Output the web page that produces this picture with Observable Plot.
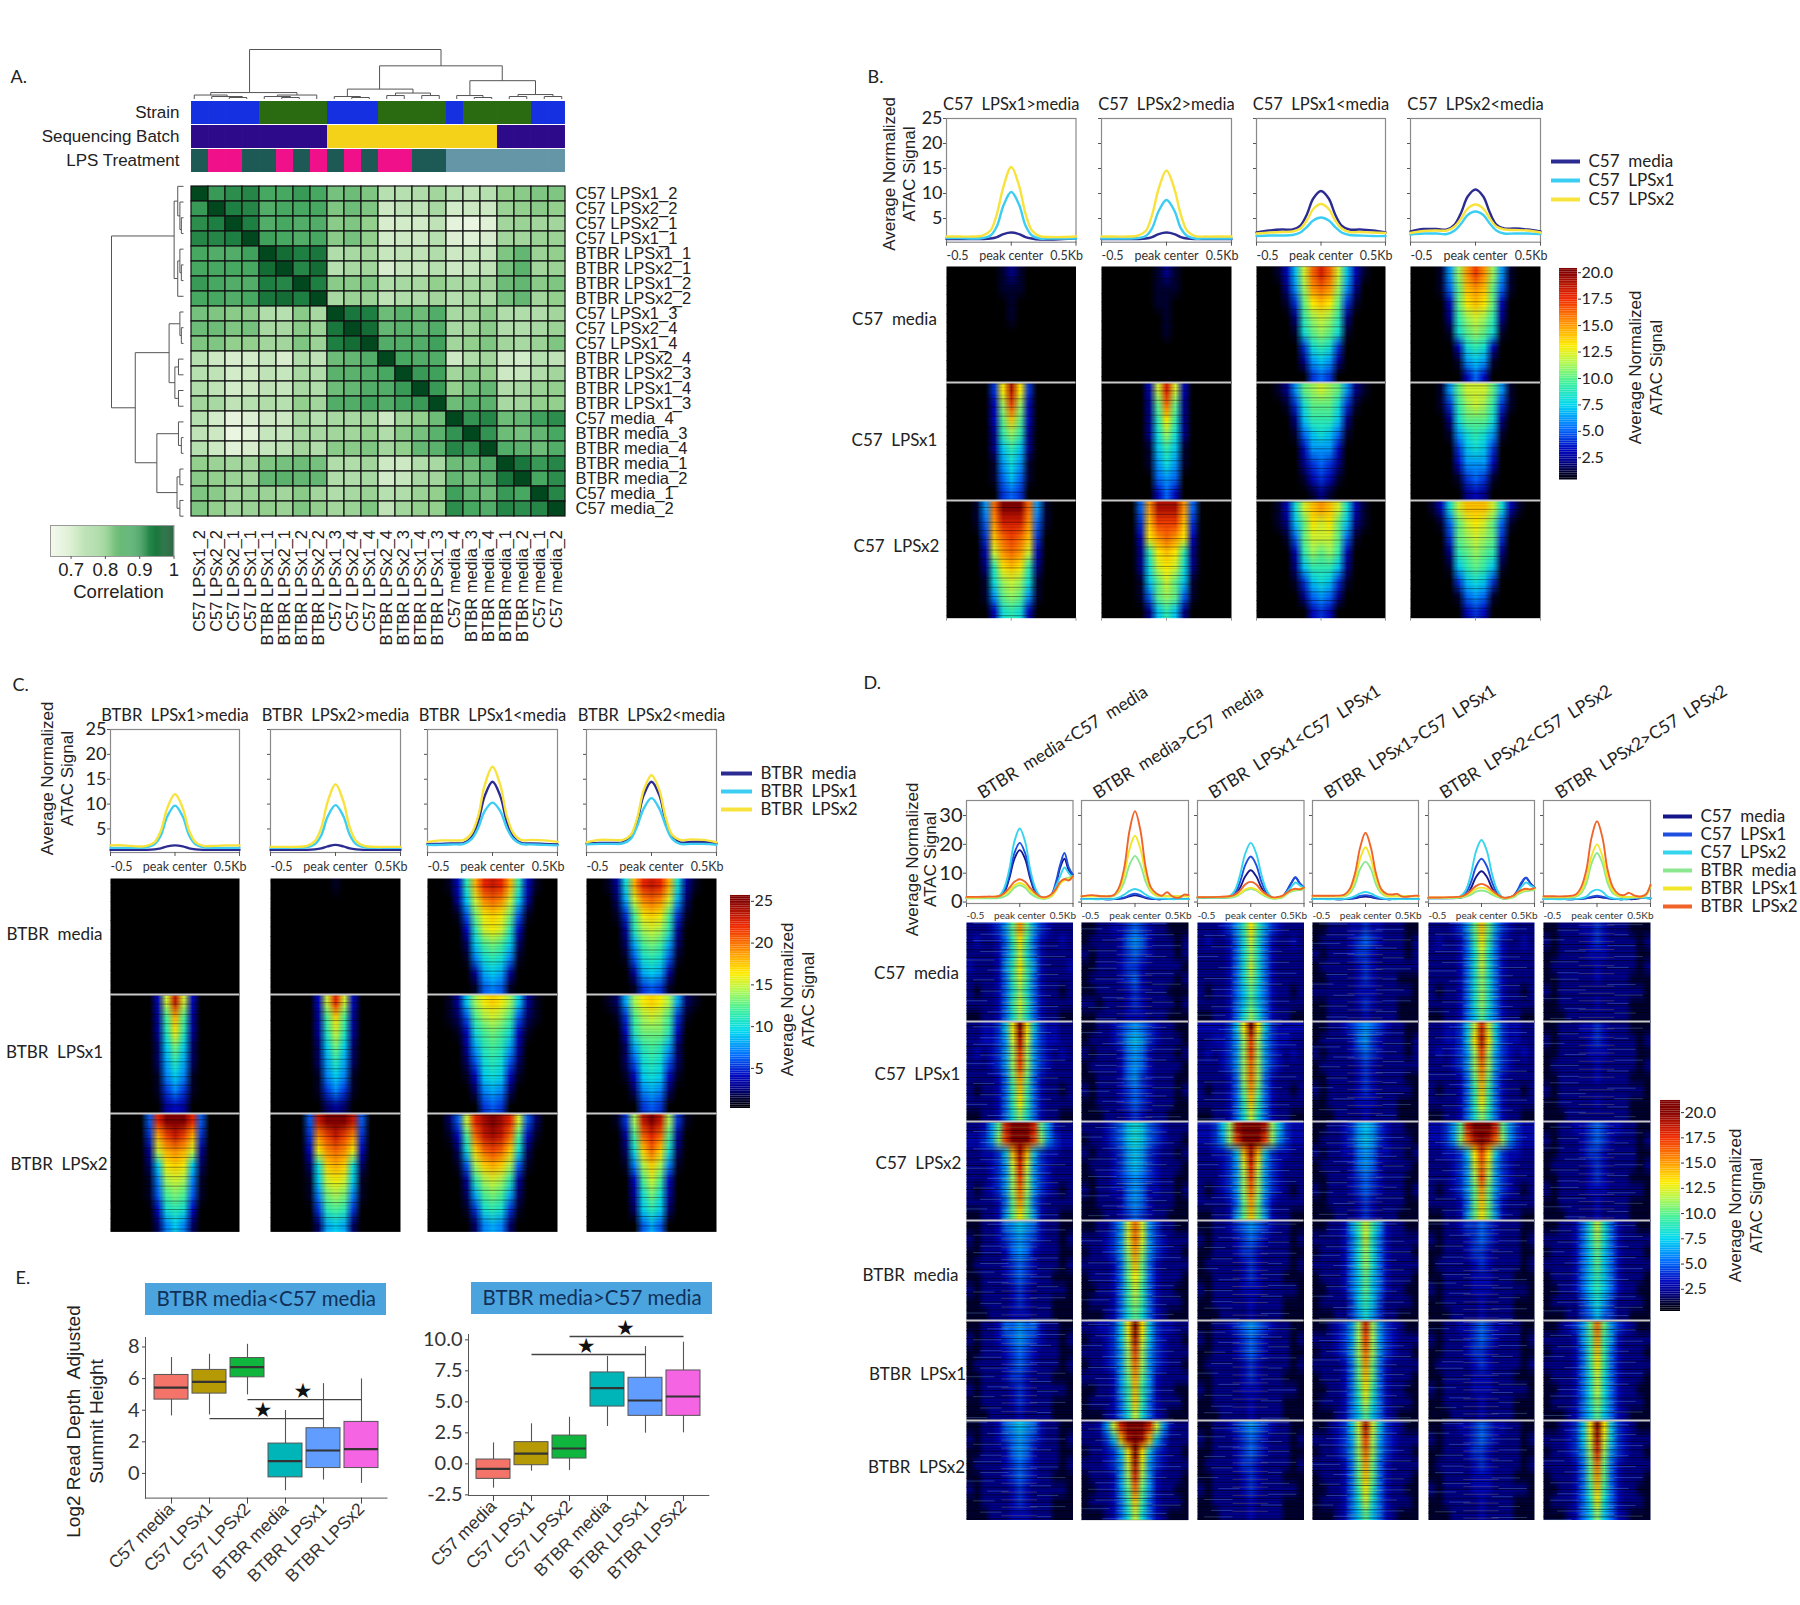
<!DOCTYPE html>
<html><head><meta charset="utf-8">
<script src="https://cdn.jsdelivr.net/npm/d3@7"></script>
<script src="https://cdn.jsdelivr.net/npm/@observablehq/plot@0.6"></script>
<style>html,body{margin:0;padding:0;background:#fff}#page{position:relative;width:1800px;height:1605px;overflow:hidden;background:#fff}#page svg{position:absolute;overflow:visible;max-width:none;background:transparent}</style>
</head><body><div id="page"></div>
<script>
// ---------- Panel A data ----------
const samples=["C57 LPSx1_2","C57 LPSx2_2","C57 LPSx2_1","C57 LPSx1_1","BTBR LPSx1_1","BTBR LPSx2_1","BTBR LPSx1_2","BTBR LPSx2_2","C57 LPSx1_3","C57 LPSx2_4","C57 LPSx1_4","BTBR LPSx2_4","BTBR LPSx2_3","BTBR LPSx1_4","BTBR LPSx1_3","C57 media_4","BTBR media_3","BTBR media_4","BTBR media_1","BTBR media_2","C57 media_1","C57 media_2"];
const correlationUpper=[
[100,90,92,93,88,88,90,88,83,84,82,75,75,76,78,75,74,75,80,81,82,82],
[100,94,93,87,88,88,88,82,84,82,72,74,74,77,71,72,72,79,80,81,80],
[100,94,87,88,87,87,81,82,80,70,71,71,74,67,66,68,78,79,78,78],
[100,89,88,87,88,81,83,80,71,72,72,75,69,68,70,78,78,79,79],
[100,96,94,95,76,77,78,73,74,74,76,72,73,73,82,85,79,80],
[100,93,96,75,77,78,70,73,73,75,72,73,74,83,86,78,79],
[100,94,81,81,82,76,77,77,80,77,77,78,84,85,81,82],
[100,77,79,79,74,76,76,78,75,77,76,83,85,78,80],
[100,95,94,84,86,84,87,77,78,81,76,76,76,78],
[100,96,85,86,85,87,77,78,81,76,76,77,79],
[100,87,87,87,89,78,80,82,78,77,79,82],
[100,88,87,87,72,76,78,72,71,75,74],
[100,90,89,78,81,80,72,73,76,78],
[100,90,80,83,85,76,77,79,80],
[100,84,86,86,77,78,80,80],
[100,91,93,84,85,89,92],
[100,91,84,83,85,88],
[100,87,86,84,87],
[100,95,90,93],
[100,88,92],
[100,93],
[100]];
const batchOfSample=[1,1,1,1,1,1,1,1,2,2,2,2,2,2,2,2,2,2,1,1,1,1];
// merges: left position, right position, height, left child height, right child height
const dendroMerges=[[3.66,14.6,1,.13,.67],[1.44,6.37,.13,.08,.08],[11.09,18.1,.67,.2,.37],[9.25,13,.2,.05,.12],[16.25,20,.37,.07,.09],
[.5,2.38,.08,0,.05],[1.5,3.25,.05,0,.03],[2.5,3.5,.03,0,0],[5.25,7.5,.08,.05,0],[4.5,6,.05,0,.03],[5.5,6.5,.03,0,0],
[8.5,10,.05,0,.03],[9.5,10.5,.03,0,0],[12,14,.12,.07,.07],[11.5,12.5,.07,0,0],[13.5,14.5,.07,0,0],
[15.5,17,.07,0,.03],[16.5,17.5,.03,0,0],[19,21,.09,.05,.05],[18.5,19.5,.05,0,0],[20.5,21.5,.05,0,0]];

// ---------- Profiles ----------
const xsB=[-.5,-.4,-.3,-.22,-.16,-.11,-.06,0,.06,.11,.16,.22,.3,.4,.5];
const xsD=[-.5,-.4,-.3,-.2,-.15,-.1,-.05,0,.05,.1,.15,.2,.25,.3,.34,.38,.42,.46,.5];
const titlesB=["C57  LPSx1>media","C57  LPSx2>media","C57  LPSx1<media","C57  LPSx2<media"];
const titlesC=["BTBR  LPSx1>media","BTBR  LPSx2>media","BTBR  LPSx1<media","BTBR  LPSx2<media"];
const titlesD=["BTBR  media<C57  media","BTBR  media>C57  media","BTBR  LPSx1<C57  LPSx1","BTBR  LPSx1>C57  LPSx1","BTBR  LPSx2<C57  LPSx2","BTBR  LPSx2>C57  LPSx2"];
const namesB=["C57  media","C57  LPSx1","C57  LPSx2"];
const namesC=["BTBR  media","BTBR  LPSx1","BTBR  LPSx2"];
const namesD=["C57  media","C57  LPSx1","C57  LPSx2","BTBR  media","BTBR  LPSx1","BTBR  LPSx2"];
const coloursThree=["#2b2b92","#3ccdf2","#f8e23c"];
const coloursSix=["#16168c","#1f4fe0","#35d5ee","#8be88f","#f2e62a","#f0642a"];
const profilesB=[
[[.9,.9,.9,.9,1,1.3,1.9,2.2,1.9,1.3,1,.8,.8,.9,1],[1.1,1.1,1,1.1,1.6,3.5,7.6,10.3,7.8,3.6,1.6,1,1,1,1],[1.4,1.4,1.4,1.6,2.6,6,11.4,15.3,11.6,6,2.6,1.5,1.3,1.3,1.4]],
[[.9,.9,.9,.9,1,1.3,1.9,2.2,1.9,1.3,1,.9,.9,.9,.9],[1,1,1,1.1,1.5,3.1,6.5,8.7,6.6,3.1,1.5,1,1,1,1],[1.4,1.4,1.4,1.6,2.5,5.8,11,14.6,11,5.8,2.5,1.5,1.4,1.4,1.4]],
[[2.2,2.6,2.8,2.8,3.6,5.8,9,10.5,9,5.8,3.6,2.8,2.8,2.6,2.2],[1.5,1.6,1.6,1.7,2.2,3.3,4.6,5.2,4.6,3.3,2.2,1.7,1.6,1.5,1.5],[2,2.2,2.3,2.4,3,4.6,6.9,7.9,6.9,4.6,3,2.3,2.3,2.2,2.1]],
[[2.4,2.9,2.9,2.8,3.8,6.2,9.4,10.8,9.4,6.2,3.8,3,3,2.8,2.4],[1.8,2,2,1.9,2.6,4,5.7,6.4,5.7,4,2.6,2,2,2,1.9],[2.1,2.5,2.6,2.6,3.4,5,7,7.8,7,5,3.4,2.8,2.7,2.6,2.2]]];
const profilesC=[
[[.8,.8,.8,.8,.9,1.1,1.5,1.7,1.5,1.1,.9,.8,.8,.8,.8],[1.2,1.2,1.2,1.3,1.9,3.7,7.5,9.7,7.5,3.7,1.9,1.3,1.2,1.2,1.2],[1.7,1.7,1.5,1.6,2.3,4.6,9.2,12,9.2,4.6,2.3,1.6,1.6,1.7,1.7]],
[[.8,.8,.8,.8,.9,1.1,1.5,1.8,1.5,1.1,.9,.8,.8,.8,.8],[1.2,1.2,1.2,1.3,1.9,3.7,7.5,9.8,7.6,3.8,1.9,1.3,1.2,1.2,1.2],[1.4,1.4,1.4,1.6,2.5,5.2,10.5,14,10.6,5.3,2.5,1.6,1.4,1.4,1.4]],
[[2,2,2.1,2.2,3.4,6.5,11.6,14.5,11.6,6.5,3.4,2.2,2.1,2,1.9],[1.8,1.8,1.9,2,3,5.2,8.6,10.3,8.6,5.2,3,2,1.9,1.8,1.7],[2.4,2.7,2.7,2.8,4.2,7.6,13.8,17.5,13.8,7.6,4.2,2.8,2.8,2.7,2.4]],
[[2.1,2.2,2.2,2.3,3.4,6.6,11.8,14.5,11.8,6.6,3.4,2.3,2.4,2.4,2.1],[1.9,2,2,2.1,3,5.6,9.1,11.2,9.1,5.6,3,2,2,2,1.8],[2.3,2.8,2.8,2.8,3.8,7.2,12.8,15.8,12.8,7.2,3.8,2.8,2.9,2.8,2.3]]];
const profilesD=[
[[1.5,1.5,1.5,1.7,3,8,15,18,15,8,3,1.5,1.5,2.5,6,12,15,11,9],[1.5,1.5,1.5,1.8,3.5,9,17,20.5,17,9,3.5,1.5,1.5,2.8,7,13,17,12,9.5],[1.5,1.5,1.5,2,4.5,11,21,25.5,21,11,4.5,1.8,1.5,2.5,5.5,9,12,10,8.5],[1.3,1.3,1.3,1.4,1.8,3,5,5.8,5,3,1.8,1.2,1.2,2,4,6.5,8,8.5,9],[1.6,1.6,1.7,2,2.6,3.8,5.8,6.6,5.8,3.8,2.6,1.5,1.5,2.2,4,6.5,7.5,8,8.5],[1.8,1.8,1.9,2,3,4.8,7,7.9,7,4.8,3,1.8,1.8,2.8,4.5,7,8,7.5,9]],
[[1,1,1,1,1.1,1.4,2,2.3,2,1.4,1.1,1,1,1,1,1,1,1,1],[1,1,1,1,1.2,1.6,2.4,2.9,2.4,1.6,1.2,1,1,1,1,1,1,1,1],[1,1,1,1.1,1.6,2.6,3.9,4.5,3.9,2.6,1.6,1.2,1.2,1.1,1,1,1,1,1],[2,2,2,2.1,3.5,7,13,16,13,7,3.5,2.2,2,2,2,2,2,2,2],[2,2,2,2.2,4,9.5,18.5,23,18.5,9.5,4,2.3,2.2,2,2,2,2,2,2],[2,2.4,2,2.4,5,12,25,31.5,25,12,5,3,2.2,3.4,2.2,1.5,1.6,2.6,2.4]],
[[1.6,1.6,1.6,1.7,2.4,5,9,11,9,5,2.4,1.5,1.5,2,3.8,6.5,8.5,6.5,5],[1.5,1.5,1.5,1.8,3,7,13,15.8,13,7,3,1.5,1.5,2,4,6.6,8.6,6.5,5],[1.5,1.5,1.5,2,4,9.5,17,20.5,17,9.5,4,1.6,1.5,2,3.4,5.2,6.8,5.8,5],[1.5,1.5,1.5,1.5,1.8,2.8,4,4.6,4,2.8,1.8,1.2,1.2,1.6,2.8,3.6,4,4.2,4.4],[1.7,1.7,1.7,1.9,2.2,3,4.4,5,4.4,3,2.2,1.5,1.5,2,3,4,4.3,4.6,4.8],[1.7,1.7,1.8,2,2.6,4,6.2,7,6.2,4,2.6,1.7,1.7,2.2,3.2,4.2,4.6,4.4,5]],
[[1,1,1,1,1.1,1.3,1.7,1.9,1.7,1.3,1.1,1,1,1,1,1,1,1,1],[1,1,1,1,1.2,1.5,2.1,2.4,2.1,1.5,1.2,1,1,1,1,1,1,1,1],[1,1,1,1.1,1.4,2.1,3,3.5,3,2.1,1.4,1.1,1,1,1,1,1,1,1],[2,2,2,2,3,6,11.5,14,11.5,6,3,2,2,2,2,2,2,2,2],[2,2,2,2.2,3.6,7.8,15,19,15,7.8,3.6,2.2,2,2,2,2,2,2,2],[2.2,2.2,2.2,2.6,4.4,9.8,19,24,19,9.8,4.4,2.8,2.6,2.8,2,1.8,2,2.2,2.2]],
[[1.4,1.4,1.4,1.5,2.2,4.8,8.8,10.7,8.8,4.8,2.2,1.3,1.4,2,3.8,6.6,8.4,6.6,5],[1.3,1.3,1.3,1.6,3,6.8,12.4,15,12.4,6.8,3,1.5,1.5,2.2,4.2,7,8.4,6.5,5],[1.3,1.3,1.4,2,4,9.6,17.8,21.5,17.8,9.6,4,1.6,1.5,2,3.4,5.4,6.8,5.8,5],[1.4,1.4,1.4,1.5,1.8,2.6,3.6,4,3.6,2.6,1.8,1.2,1.2,1.6,2.6,3.4,3.8,4,4.2],[1.6,1.6,1.6,1.8,2.2,3.2,4.6,5,4.6,3.2,2.2,1.5,1.5,2,3,3.8,4.2,4.4,4.6],[1.6,1.6,1.7,1.9,2.6,4,5.6,6.3,5.6,4,2.6,1.6,1.6,2.2,3.4,4.2,4.6,4.4,4.8]],
[[1,1,1,1,1.1,1.3,1.6,1.8,1.6,1.3,1.1,1,1,1,1,1.2,1.5,1.5,1.3],[1,1,1,1,1.1,1.4,1.9,2.2,1.9,1.4,1.1,1,1,1,1.2,1.5,1.6,1.4,1.2],[1,1,1,1.1,1.3,1.9,3.6,4.3,3.6,1.9,1.3,1.1,1,1.2,1.5,1.7,1.6,1.4,1.3],[1.6,1.6,1.6,1.8,3,6.5,13.5,17,13.5,6.5,3,2,1.6,1.6,1.6,1.6,1.6,2.4,5.5],[1.8,1.8,1.8,2.2,3.8,8.2,16,20,16,8.2,3.8,2.2,1.8,1.8,1.8,1.8,1.8,2.6,5.8],[2,2,2,2.6,5,11,22.5,28,22.5,11,5,2.8,2.4,3.2,2.4,2,2,2.8,6]]];

// ---------- Heatmaps: one character per cell, base-36 signal level ----------
const blank=Array(8).fill("000000000000000");
const heatB=[
[["000000121000000","000000111000000","000000010000000","000000010000000","000000000000000","000000000000000","000000000000000","000000000000000"],
 ["000000121000000","000000111000000","000000110000000","000000010000000","000000010000000","000000000000000","000000000000000","000000000000000"],
 ["00137cgigc73100","00026bfgfb62000","00014adeda41000","000029bcb920000","000018aba810000","000004898400000","000002676200000","000000454000000"],
 ["00016bfhfb61000","00015aefea51000","00003adeda30000","000029bcb920000","000018aba810000","000003898300000","000001676100000","000000353000000"]],
[["000004djd400000","000003bhb300000","000003aea300000","0000029b9200000","000002797200000","000001686100000","000001575100000","000000454000000"],
 ["000003cic300000","000002aga200000","0000029d9200000","0000028b8200000","000001797100000","000001686100000","000000565000000","000000353000000"],
 ["00126abcba62100","000148aaa841000","000027999720000","000015787510000","000003666300000","000002454200000","000001343100000","000000121000000"],
 ["00016accca61000","000149bcb941000","000028aaa820000","000016898610000","000004787400000","000003666300000","000001454100000","000000232000000"]],
[["00016gkkkg61000","00015fiiif51000","00004eghge40000","00003cfgfc30000","000029ded920000","000018bcb810000","000016aba610000","000003898300000"],
 ["00005fjjjf50000","00004ehhhe40000","00003dfgfd30000","000029ded920000","000028cdc820000","000017aca710000","000015aba510000","000002797200000"],
 ["00138cefec83100","00127adcda72100","00015accca51000","000039bab930000","000027999720000","000014787410000","000002565200000","000000343000000"],
 ["00138ceeec83100","00015acdca51000","00004abcba40000","000029aba920000","0000179a9710000","000004787400000","000001565100000","000000343000000"]]];
const heatC=[
[[...blank],
 ["000000010000000","000000000000000","000000000000000","000000000000000","000000000000000","000000000000000","000000000000000","000000000000000"],
 ["0014bimnmib4100","00039fjkjf93000","00016dghgd61000","00004bfgfb40000","000029cdc920000","000017aba710000","000003898300000","000001676100000"],
 ["0013aimnmia3100","00028fjkjf82000","00015cghgc51000","00003befeb30000","000028cdc820000","000016aba610000","000003898300000","000001565100000"]],
[["000004fnf400000","000003cic300000","000003bgb300000","0000029d9200000","0000028b8200000","000001797100000","000001575100000","000000343000000"],
 ["000004fmf400000","000003chc300000","000003bfb300000","0000029d9200000","0000028b8200000","000001797100000","000001575100000","000000232000000"],
 ["00139eghge93100","00126cefec62100","00014acdca41000","000038bcb830000","000026aba620000","0000149a9410000","000002787200000","000000565000000"],
 ["00128eghge82100","00015cefec51000","00004bdddb40000","000028bcb820000","000026aba620000","0000149a9410000","000002787200000","000000565000000"]],
[["00006mpppm60000","00005ilnli50000","00003fijif30000","000029ghg920000","000017efe710000","000016cdc610000","000004aba400000","000002797200000"],
 ["00006npppn60000","00005jlnlj50000","00004gjkjg40000","00002ahiha20000","000019fgf910000","000017ded710000","000005bcb500000","000002898200000"],
 ["0026fmopomf6200","0014cknonkc4100","0002ahklkha2000","00016ehihe61000","00003befeb30000","000028cdc820000","000015aba510000","000002787200000"],
 ["00015enpne51000","00003ckmkc30000","00002ahkha20000","000017ehe710000","000004cfc400000","000003ada300000","0000029b9200000","000000686000000"]]];
const weakOne=["112233454322111","122223565322212","212223454322212","112223443222221","122223453222212","112222343222111","221222343222212","112222333222111"];
const weakTwo=["112223343322211","122223454322212","212223443222212","122222343222222","112222343222111","222222333222221","112222343222111","112222232222111"];
const weakThree=["112223343222111","212222343222212","112222333222211","122222232222212","112222232222111","212222222222221","112222232222111","111222222222111"];
const weakFour=["112234565432211","212223454322212","112223443222211","122222343222212","112222343222111","212222333222221","112222232222111","111222232222111"];
const weakFive=["112235676532211","212234565432212","112223565322211","122223454322212","112223454322111","212222343222221","112222343222111","111222333222111"];
const heatD=[
[["222346afa643222","2322359d9532232","2222358c8532222","3222369d9632223","2222359c9532222","2122358b8532212","2222359c9532222","1122358b8532211"],weakOne,
 ["2223469d9643222","2322358c8532232","2222358b8532222","2222358c8532222","2222358b8532222","2122357a7532212","2222357a7532222","1122358b8532211"],weakTwo,
 ["222346aea643222","2322359d9532232","2222358c8532222","2222358c8532222","2222358b8532222","2122358b8532212","2222358b8532222","1122357a7532211"],weakThree],
[["223347dkd743322","223346cjc643322","232346bhb643232","222346bhb643222","222235afa532222","2122359e9532212","2222359d9532222","1122358b8532211"],
 ["112234565432211","122234676432221","212223565322212","122223565322221","112223564322211","212223454322212","112223454322211","111222343222111"],
 ["333347dkd743333","223346bhb643322","232346bhb643232","222346bgb643222","222235bgb532222","212235afa532212","2222359e9532222","1122358c8532211"],
 ["112234565432211","122223564322212","212223454322212","122222343222222","112222343222211","212222343222221","112222333222111","111222232222111"],
 ["223347cic743322","223347djd743322","232346bhb643232","222346bgb643222","222235afa532222","2122359e9532212","2222359d9532222","1122358b8532211"],weakThree],
[["2236aikkkia6322","3346bhkkkhb6433","223347eje743322","222346cic643222","222346bhb643222","212346bgb643212","222235afa532222","112236ada632211"],
 ["222345787543222","122345787543221","212234676432212","122234676432221","112234565432211","212233565332212","112223565322211","111223454322111"],
 ["3347bjkkkjb7433","3346bhkkkhb6433","223347eje743322","222346cic643222","222346bhb643222","212346bgb643212","222235afa532222","112236aea632211"],
 ["112234676432211","122234676432221","212233565332212","122223565322221","112223454322211","212223454322212","112222343222211","111222343222111"],
 ["3346aikkkia6433","3346bgjkjgb6433","223347dhd743322","222346cgc643222","222346bhb643222","212346afa643212","222235aea532222","112236ada632211"],
 ["112233454332211","212223454322212","112223443222211","122222343222212","112222343222111","212222333222221","112222232222111","111222232222111"]],
[weakFive,
 ["112246cgc642211","222346cgc643222","122346bfb643221","222235aea532222","122235ada532221","1122359c9532211","1222359b9532221","1112358a8532111"],
 weakFour,
 ["1122369c9632211","2222358c8532222","1222358b8532221","2222358b8532222","1222357a7532221","1122357a7532211","122224797422221","111224686422111"],
 ["112234454322211","212223454322212","112223443222211","122222343222212","112222333222111","212222333222221","112222232222111","111222232222111"],
 ["1122358c8532211","2222358b8532222","1222357a7532221","2222357a7532222","122235797532221","112235797532211","122224686422221","111224575422111"]],
[["112235565532211","212234565432212","112223454322211","122223454322212","112223443222111","212222343222221","112222343222111","111222232222111"],
 ["223347dkd743322","122347cjc743221","222346bhb643222","122346bgb643221","222236afa632222","1122369e9632211","1222359e9532221","1112358c8532111"],
 ["112234565432211","212223454322212","112223454322211","122222343222212","112222343222111","212222333222221","112222232222111","111222232222111"],
 ["112346bib643211","222346bhb643222","122346bgb643221","222235afa532222","122235aea532221","1122359d9532211","1222358c8532221","1112357a7532111"],
 ["112233454332211","212223454322212","112223443222211","122222343222212","112222333222111","212222333222221","112222232222111","111222232222111"],
 ["112346aga643211","2222369f9632222","1222359e9532221","2222359d9532222","1222358c8532221","1122358c8532211","1222358b8532221","1112357a7532111"]],
[weakFive,
 ["2236cikkkic6322","22247ejkje74222","122347dkd743221","222346cjc643222","122236bib632221","112236aga632211","1222359e9532221","1112358c8532111"],
 ["112234565432211","212223454322212","112223454322211","122223443222212","112222343222111","212222343222221","112222232222111","111222232222111"],
 ["112347cjc743211","222346bhb643222","122346bgb643221","222235afa532222","122235aea532221","1122359d9532211","1222358c8532221","1112357a7532111"],
 ["112233454332211","212223454322212","112223443222211","122222343222212","112222333222111","212222333222221","112222232222111","111222232222111"],
 ["112347dkd743211","222347cjc743222","122346bib643221","222235aga532222","122235afa532221","1122359e9532211","1222358d8532221","1112357b7532111"]]];
// read-line streaks seen across the heat panels: depth in rows, and short bright flecks (depth, from bin, to bin)
const streakStrong=[.37,.94,1.55,2.26,2.88,3.47,4.16,4.79,5.42,6.08,6.72,7.36];
const streakWeak=[.13,.52,.71,1.12,1.38,1.83,2.02,2.41,2.67,3.09,3.31,3.74,3.93,4.33,4.58,4.97,5.21,5.66,5.83,6.27,6.49,6.91,7.14,7.58,7.82];
const flecks=[[.21,1,5],[.64,9,13],[1.08,2,6],[1.49,10,14],[1.77,0,4],[2.15,9,12],[2.58,3,6],[2.93,10,13],[3.36,1,4],[3.82,9,14],[4.27,2,5],[4.63,10,12],[5.04,0,3],[5.51,9,13],[5.94,3,6],[6.39,10,14],[6.81,1,5],[7.26,9,12],[7.69,2,5]];

// ---------- Panel E data ----------
const boxLabels=["C57 media","C57 LPSx1","C57 LPSx2","BTBR media","BTBR LPSx1","BTBR LPSx2"];
const boxColours=["#f5746a","#b59a05","#0fb53c","#00b5b8","#619cff","#f564e3"];
const leftLow=[3.64,3.7,4.97,-1.09,-.42,-.63],leftQ1=[4.67,5.05,6.08,-.25,.34,.34],leftMedian=[5.43,5.79,6.72,.78,1.45,1.54],leftQ3=[6.23,6.55,7.3,1.89,2.86,3.26],leftHigh=[7.33,7.54,8.17,3.98,5.68,5.98];
const rightLow=[-1.96,-.59,-.54,3.01,2.47,2.5],rightQ1=[-1.21,-.11,.43,4.62,3.87,3.87],rightMedian=[-.4,.83,1.24,6.1,5.11,5.43],rightQ3=[.35,1.75,2.28,7.37,6.94,7.53],rightHigh=[1.69,3.23,3.76,8.66,9.46,9.81];

// ---------- helpers ----------
const page=document.getElementById("page");
const NARROW="Lato, sans-serif", WIDE="'DejaVu Sans', sans-serif", HELV="'Liberation Sans', Arial, sans-serif";
function place(left,top,w,h,opts){
  const svg=Plot.plot({width:w,height:h,marginTop:0,marginRight:0,marginBottom:0,marginLeft:0,...opts});
  svg.style.left=left+"px";svg.style.top=top+"px";page.appendChild(svg);return svg;
}
const stops=[0,1,2,3.2,5.2,7.4,9.4,11.4,13,15,17.5,20];
const stopColours=["#000000","#000030","#000088","#0008c0","#0070ff","#00d8f0","#3cf0a0","#b4f850","#ffec00","#ff9800","#f02800","#800000"];
function heatScale(k){return {type:"linear",domain:stops.map(d=>d*k),range:stopColours,clamp:true,interpolate:"rgb"};}
let heatIndex=0;
function heat(left,top,w,h,rows,k,divider,ticks,bright){
  const values=rows.join("").split("").map(c=>parseInt(c,36));
  const nx=rows[0].length,ny=rows.length;
  heatIndex++;
  const shift=heatIndex*.37;
  const wrap=d=>(d+shift)%ny;
  place(left,top,w,h,{x:{domain:[0,nx],axis:null},y:{domain:[ny,0],axis:null},color:heatScale(k),marks:[
    Plot.raster(values,{width:nx,height:ny,fill:Plot.identity}),
    Plot.ruleY(streakWeak,{y:wrap,stroke:"#000",strokeOpacity:bright?.28:.12,strokeWidth:1}),
    Plot.ruleY(streakStrong,{y:wrap,stroke:"#000",strokeOpacity:bright?.6:.42,strokeWidth:1}),
    bright?Plot.ruleY(flecks,{y:d=>wrap(d[0]),x1:d=>d[1],x2:d=>d[2],stroke:"#8fdcff",strokeOpacity:.25,strokeWidth:1}):null,
    bright?Plot.ruleY(streakStrong,{y:d=>wrap(d+.4),x1:()=>5,x2:()=>10,stroke:"#ffe860",strokeOpacity:.2,strokeWidth:1}):null,
    divider?Plot.ruleY([0],{stroke:"#c9c9c9",strokeWidth:2.2}):null,
    ticks?Plot.axisX({ticks:[0,nx/2,nx],tickSize:3,stroke:"#999",tickFormat:()=>"",label:null}):null
  ]});
}
function profile(left,top,w,h,o){
  const data=o.series.flatMap((vals,s)=>vals.map((v,i)=>({x:o.xs[i],y:v,name:o.names[s]})));
  const fs=o.tickFont;
  const below={frameAnchor:"bottom",lineAnchor:"middle",dy:o.tickDy,fontSize:fs,fontFamily:NARROW,fill:"#333"};
  place(left,top,w,h,{x:{domain:[-.5,.5]},y:{domain:o.domain},color:{domain:o.names,range:o.colours},marks:[
    Plot.frame({stroke:"#8a8a8a",strokeWidth:1.2}),
    Plot.axisY({ticks:o.ticks,tickSize:3,tickPadding:1,stroke:"#555",fontSize:o.yFont,fontFamily:NARROW,fill:"#222",label:null,tickFormat:o.showY?(d=>d):(()=>"")}),
    Plot.axisX({ticks:[-.5,0,.5],tickSize:4,stroke:"#555",tickFormat:()=>"",label:null}),
    Plot.line(data,{x:"x",y:"y",z:"name",stroke:"name",strokeWidth:o.lineWidth,curve:"catmull-rom"}),
    Plot.text(["-0.5"],{x:()=>-.5,textAnchor:"start",...below}),
    Plot.text(["peak center"],{x:()=>0,...below}),
    Plot.text(["0.5Kb"],{x:()=>.5,dx:o.tickEnd,textAnchor:"end",...below}),
    o.title?Plot.text([o.title],{frameAnchor:"top",lineAnchor:"middle",dy:-13.5,fontSize:o.titleFont,fontFamily:NARROW,fill:"#222"}):null
  ]});
}
function legend(left,top,w,h,names,colours,font,gap){
  place(left,top,w,h,{x:{domain:[0,w],range:[0,w],axis:null},y:{type:"point",domain:names,range:[0,h],padding:0,axis:null},marks:[
    Plot.ruleY(names,{y:d=>d,x1:()=>0,x2:()=>gap-8,stroke:(d,i)=>colours[i],strokeWidth:4}),
    Plot.text(names,{y:d=>d,x:()=>gap,text:d=>d,textAnchor:"start",fontSize:font,fontFamily:NARROW,fill:"#222"})
  ]});
}
function colourbar(left,top,w,h,lo,hi,k,ticks,fmt,font){
  const steps=d3.range(lo,hi,(hi-lo)/120);
  place(left,top,w,h,{x:{domain:[0,1],axis:null},y:{domain:[lo,hi]},color:heatScale(k),marks:[
    Plot.rect(steps,{x1:()=>0,x2:()=>1,y1:d=>d,y2:d=>d+(hi-lo)/118,fill:Plot.identity}),
    Plot.axisY({anchor:"right",ticks,tickSize:3,tickPadding:1,tickFormat:fmt,fontSize:font,fontFamily:NARROW,label:null,fill:"#222",stroke:"#333"})
  ]});
}
function boxes(left,top,w,h,domain,ticks,fmt,vals,brackets,stars){
  const d=boxLabels.map((name,i)=>({name,low:vals[0][i],q1:vals[1][i],med:vals[2][i],q3:vals[3][i],high:vals[4][i]}));
  place(left,top,w,h,{
    x:{type:"band",domain:boxLabels,paddingInner:.1,paddingOuter:.158},y:{domain},marks:[
    Plot.frame({anchor:"left",stroke:"#555"}),Plot.frame({anchor:"bottom",stroke:"#555"}),
    Plot.ruleX(d,{x:"name",y1:"low",y2:"high",stroke:"#555",strokeWidth:1.1}),
    Plot.barY(d,{x:"name",y1:"q1",y2:"q3",fill:(_,i)=>boxColours[i],stroke:"#555",strokeWidth:1}),
    Plot.tickY(d,{x:"name",y:"med",stroke:"#333",strokeWidth:2.2}),
    Plot.axisY({ticks,tickSize:3,tickPadding:3,tickFormat:fmt,fontSize:20,fontFamily:NARROW,label:null,fill:"#333",stroke:"#444"}),
    Plot.axisX({tickRotate:-45,tickSize:6,tickPadding:2,fontSize:17.5,fontFamily:HELV,label:null,fill:"#333",stroke:"#444"}),
    Plot.link(brackets,{x1:"from",x2:"to",y1:"y",y2:"y",stroke:"#444",strokeWidth:1.4}),
    ...stars.map(s=>Plot.text([s],{x:"at",y:"y",dx:s.dx,text:()=>"★",fontSize:21,fontFamily:WIDE,fill:"#111"}))
  ]});
}

// ---------- Panel A ----------
const cells=[];
correlationUpper.forEach((row,i)=>row.forEach((v,j)=>{
  cells.push({r:samples[i],c:samples[i+j],v:v/100});
  if(j>0)cells.push({r:samples[i+j],c:samples[i],v:v/100});
}));
const corrScale={type:"linear",domain:[.64,.72,.8,.88,.94,1],range:["#f4f9ec","#cde9c4","#93d08e","#47a862","#1e7f42","#02481f"],clamp:true,interpolate:"rgb"};
place(185,177.5,385,345.5,{x:{type:"band",domain:samples,padding:0},y:{type:"band",domain:samples,padding:0},color:corrScale,marks:[
  Plot.cell(cells,{x:"c",y:"r",fill:"v",stroke:"#111",strokeWidth:1.2,inset:0}),
  Plot.axisX({anchor:"bottom",tickRotate:-90,tickSize:0,tickPadding:6,fontSize:16.5,fontFamily:HELV,label:null,fill:"#222"}),
  Plot.axisY({anchor:"right",tickSize:0,tickPadding:5,fontSize:16.5,fontFamily:HELV,label:null,fill:"#222"})
]});
const segments=dendroMerges.flatMap(([a,b,h,ha,hb])=>[{p1:a,h1:ha,p2:a,h2:h},{p1:a,h1:h,p2:b,h2:h},{p1:b,h1:h,p2:b,h2:hb}]);
place(185,49,385,49.5,{x:{domain:[0,22],axis:null},y:{domain:[0,1],axis:null},marks:[Plot.link(segments,{x1:"p1",x2:"p2",y1:"h1",y2:"h2",stroke:"#555",strokeWidth:1})]});
place(110.7,177.5,72,345.5,{x:{domain:[1,0],axis:null},y:{domain:[22,0],axis:null},marks:[Plot.link(segments,{y1:"p1",y2:"p2",x1:"h1",x2:"h2",stroke:"#555",strokeWidth:1})]});
const annotationRows=["Strain","Sequencing Batch","LPS Treatment"];
const annotation=samples.flatMap((s,i)=>[
  {c:s,r:"Strain",col:s.startsWith("C57")?"#1430e0":"#2a6a10"},
  {c:s,r:"Sequencing Batch",col:batchOfSample[i]==1?"#2d0a8a":"#f5d21a"},
  {c:s,r:"LPS Treatment",col:s.includes("media")?"#6496a8":s.includes("x1")?"#1e5a55":"#f0108a"}]);
place(185,99.6,385,72.4,{x:{type:"band",domain:samples,padding:0,axis:null},y:{type:"band",domain:annotationRows,paddingInner:.03,paddingOuter:0},marks:[
  Plot.cell(annotation,{x:"c",y:"r",fill:"col"}),
  Plot.axisY({tickSize:0,tickPadding:6,fontSize:17,fontFamily:HELV,label:null,fill:"#222"})
]});
const grad=d3.range(.64,1,.003);
place(49.5,525,123.5,31,{x:{domain:[.64,1]},y:{domain:[0,1],axis:null},color:corrScale,marks:[
  Plot.rect(grad,{x1:d=>d,x2:d=>d+.0035,y1:()=>0,y2:()=>1,fill:Plot.identity}),
  Plot.frame({stroke:"#999"}),
  Plot.axisX({ticks:[.7,.8,.9,1],tickSize:3,tickPadding:3,tickFormat:d=>d==1?"1":d.toFixed(1),fontSize:18.5,fontFamily:HELV,label:null,fill:"#222",stroke:"#555"})
]});

// ---------- Panels B, C, D: profile rows, heat rows ----------
function panel(o){
  o.cols.forEach(([a,b],c)=>{
    profile(a,o.top,b-a,o.height,{xs:o.xs,series:o.profiles[c],names:o.names,colours:o.colours,domain:o.domain,ticks:o.ticks,
      showY:c==0,title:o.titles?o.titles[c]:null,titleFont:o.titleFont,yFont:o.yFont,tickFont:o.tickFont,tickDy:o.tickDy,tickEnd:o.tickEnd,lineWidth:o.lineWidth});
    o.rows.slice(0,-1).forEach((y,r)=>{
      heat(a,y,b-a,o.rows[r+1]-y,o.heat[r][c],o.k,r>0,r==o.rows.length-2&&o.bottomTicks,o.bright);
    });
  });
}
panel({cols:[[945.5,1075],[1101,1231],[1255.5,1384.5],[1409.5,1539.5]],top:118.3,height:123.7,xs:xsB,profiles:profilesB,names:namesB,colours:coloursThree,domain:[.27,25],ticks:[5,10,15,20,25],titles:titlesB,titleFont:16.5,yFont:18,tickFont:12.5,tickDy:14,tickEnd:7,lineWidth:2.4,rows:[265.7,382.3,500,617.7],heat:heatB,k:1,bottomTicks:true});
panel({cols:[[110,239],[270,400],[427,557],[586,716]],top:729,height:123,xs:xsB,profiles:profilesC,names:namesC,colours:coloursThree,domain:[.27,25],ticks:[5,10,15,20,25],titles:titlesC,titleFont:16.5,yFont:18,tickFont:12.5,tickDy:14.5,tickEnd:7,lineWidth:2.4,rows:[878,994,1112.6,1231],heat:heatC,k:1.25,bottomTicks:false});
panel({cols:[[965.5,1072],[1081,1188],[1196.5,1303],[1312,1418],[1428,1534],[1543,1650]],top:800,height:103,xs:xsD,profiles:profilesD,names:namesD,colours:coloursSix,domain:[-.5,35.2],ticks:[0,10,20,30],titles:null,yFont:20,tickFont:10,tickDy:12,tickEnd:3,lineWidth:1.9,rows:[921.5,1021,1120.5,1220,1320,1420,1519.5],heat:heatD,k:1,bottomTicks:false,bright:true});
legend(1551,161,110,38,namesB,coloursThree,17,37);
legend(721,771.7,110,37.6,namesC,coloursThree,17,39);
legend(1663,814.3,130,93.7,namesD,coloursSix,17,37);
colourbar(1559,267.5,18,211.5,.4,20.4,1,[2.5,5,7.5,10,12.5,15,17.5,20],d=>d.toFixed(1),16);
colourbar(730,895,20,213,.2,25.7,1.25,[5,10,15,20,25],d=>d,16);
colourbar(1660,1100,20,211,.3,21.2,1,[2.5,5,7.5,10,12.5,15,17.5,20],d=>d.toFixed(1),16);

// ---------- Panel E ----------
boxes(144.5,1336.7,241.5,160.6,[-1.56,8.6],[0,2,4,6,8],d=>d,[leftLow,leftQ1,leftMedian,leftQ3,leftHigh],
  [{from:"C57 LPSx1",to:"BTBR LPSx1",y:3.47},{from:"C57 LPSx2",to:"BTBR LPSx2",y:4.67}],
  [{at:"BTBR media",y:3.97,dx:-22.6},{at:"BTBR LPSx1",y:5.19,dx:-20.5}]);
boxes(467.7,1334,240.3,161,[-2.55,10.43],[-2.5,0,2.5,5,7.5,10],d=>d.toFixed(1),[rightLow,rightQ1,rightMedian,rightQ3,rightHigh],
  [{from:"C57 LPSx1",to:"BTBR LPSx1",y:8.82},{from:"C57 LPSx2",to:"BTBR LPSx2",y:10.27}],
  [{at:"C57 LPSx2",y:9.46,dx:16.6},{at:"BTBR media",y:10.9,dx:17.8}]);
function titleBox(left,top,w,h,text){
  place(left,top,w,h,{marks:[Plot.text([text],{frameAnchor:"middle",fontSize:20.5,fontFamily:NARROW,fill:"#10305a"})]}).style.background="#4ba4de";
}
titleBox(144.5,1282.7,241.5,32,"BTBR media<C57 media");
titleBox(470.8,1281.7,241.2,32,"BTBR media>C57 media");

// ---------- Loose page text ----------
const axisFont=17;
const pageText=[
 {t:"A.",x:10,y:77,size:18},{t:"B.",x:867,y:77,size:18},{t:"C.",x:12,y:685,size:18},{t:"D.",x:863,y:683,size:18},{t:"E.",x:15,y:1278,size:18},
 {t:"Correlation",x:118,y:592,size:18.5,a:"middle",f:HELV},
 {t:"Average Normalized",x:889,y:173.5,size:axisFont,a:"middle",f:HELV,r:-90},{t:"ATAC Signal",x:909,y:173.5,size:axisFont,a:"middle",f:HELV,r:-90},
 {t:"Average Normalized",x:47,y:778,size:axisFont,a:"middle",f:HELV,r:-90},{t:"ATAC Signal",x:67,y:778,size:axisFont,a:"middle",f:HELV,r:-90},
 {t:"Average Normalized",x:912,y:859,size:axisFont,a:"middle",f:HELV,r:-90},{t:"ATAC Signal",x:930,y:859,size:axisFont,a:"middle",f:HELV,r:-90},
 {t:"Average Normalized",x:1635,y:367,size:axisFont,a:"middle",f:HELV,r:-90},{t:"ATAC Signal",x:1656,y:367,size:axisFont,a:"middle",f:HELV,r:-90},
 {t:"Average Normalized",x:787,y:999,size:axisFont,a:"middle",f:HELV,r:-90},{t:"ATAC Signal",x:808,y:999,size:axisFont,a:"middle",f:HELV,r:-90},
 {t:"Average Normalized",x:1735,y:1205,size:axisFont,a:"middle",f:HELV,r:-90},{t:"ATAC Signal",x:1756,y:1205,size:axisFont,a:"middle",f:HELV,r:-90},
 {t:"Log2 Read Depth  Adjusted",x:73.5,y:1421,size:19,a:"middle",f:HELV,r:-90},{t:"Summit Height",x:96,y:1421,size:19,a:"middle",f:HELV,r:-90},
 {t:"C57  media",x:894,y:319,size:17,a:"middle"},{t:"C57  LPSx1",x:894,y:440,size:17,a:"middle"},{t:"C57  LPSx2",x:896,y:546.5,size:17,a:"middle"},
 {t:"BTBR  media",x:54,y:934,size:17,a:"middle"},{t:"BTBR  LPSx1",x:54,y:1051.6,size:17,a:"middle"},{t:"BTBR  LPSx2",x:58.5,y:1164,size:17,a:"middle"},
 {t:"C57  media",x:916,y:973.5,size:17,a:"middle"},{t:"C57  LPSx1",x:917,y:1074.5,size:17,a:"middle"},{t:"C57  LPSx2",x:918,y:1163,size:17,a:"middle"},
 {t:"BTBR  media",x:910,y:1275.5,size:17,a:"middle"},{t:"BTBR  LPSx1",x:917,y:1374,size:17,a:"middle"},{t:"BTBR  LPSx2",x:916,y:1467,size:17,a:"middle"},
 ...titlesD.map((t,i)=>({t,x:[979,1094.5,1210,1325.5,1441,1556.5][i],y:794,size:17.5,a:"start",r:-32}))
];
place(0,0,1800,1605,{x:{domain:[0,1800],range:[0,1800],axis:null},y:{domain:[0,1605],range:[0,1605],axis:null},marks:pageText.map(l=>
  Plot.text([l],{x:"x",y:"y",text:"t",fontSize:l.size,textAnchor:l.a||"start",rotate:l.r||0,fontFamily:l.f||NARROW,fill:"#222"}))});
</script></body></html>
